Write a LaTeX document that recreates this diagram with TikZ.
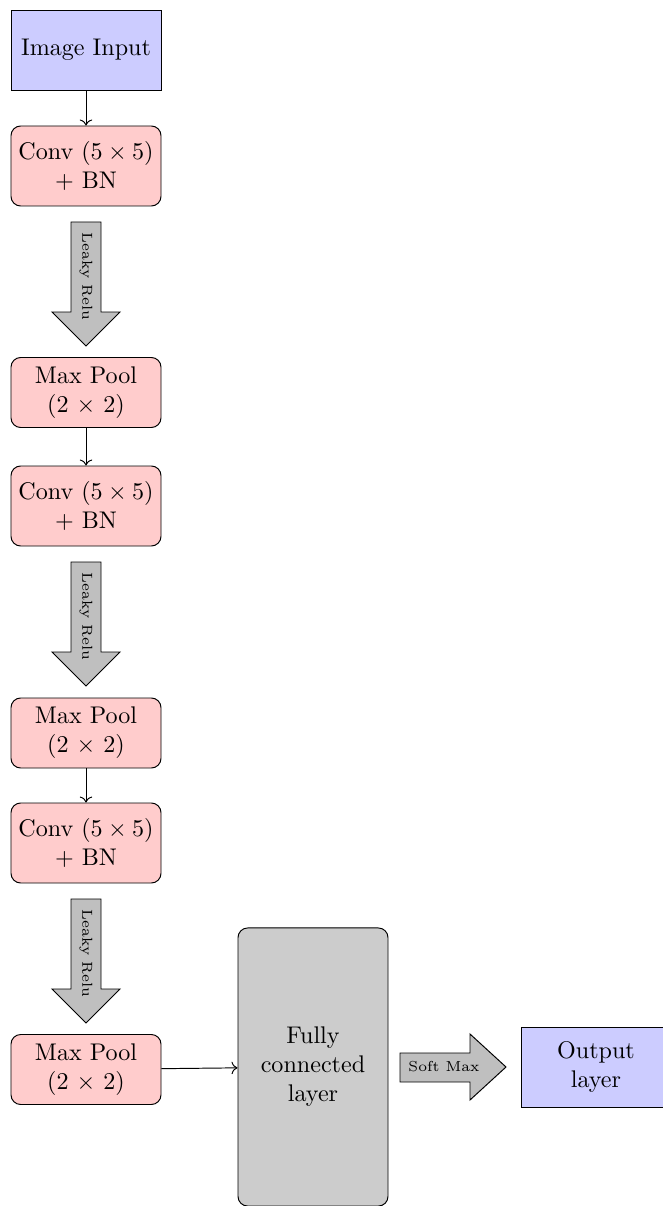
\documentclass[tikz,border=0pt]{standalone}
\usetikzlibrary{arrows.meta}
\begin{document}
\begin{tikzpicture}[x=0.415pt,y=-0.415pt,
 blk/.style={draw, minimum width=62.25pt, align=center, inner sep=0pt},
 inbox/.style={blk, fill=blue!20, minimum height=33.2pt},
 convbox/.style={blk, fill=red!20, rounded corners, minimum height=33.2pt},
 poolbox/.style={blk, fill=red!20, rounded corners, minimum height=29.05pt},
 fcbox/.style={blk, fill=gray!40, rounded corners, minimum height=115.4pt},
 conn/.style={->},
 fat/.style={draw, fill=gray!50},
 lab/.style={font=\fontsize{6}{7}\selectfont, inner sep=0pt}]
\useasboundingbox (0,0) rectangle (663,1206);
\node[inbox] (in) at (86,50) {Image Input};
\node[convbox] (conv1) at (86,166) {Conv $(5\times5)$\\+ BN};
\node[poolbox] (pool1) at (86,392.5) {Max Pool\\(2 $\times$ 2)};
\node[convbox] (conv2) at (86,506) {Conv $(5\times5)$\\+ BN};
\node[poolbox] (pool2) at (86,733) {Max Pool\\(2 $\times$ 2)};
\node[convbox] (conv3) at (86,843) {Conv $(5\times5)$\\+ BN};
\node[poolbox] (pool3) at (86,1069.5) {Max Pool\\(2 $\times$ 2)};
\node[fcbox] (fc) at (313,1067) {Fully\\connected\\layer};
\node[inbox] (out) at (596,1067) {Output\\layer};
\draw[conn] (in) -- (conv1);
\draw[conn] (pool1) -- (conv2);
\draw[conn] (pool2) -- (conv3);
\draw[conn] (pool3) -- (fc);
\foreach \t/\n in {222/lr1,562/lr2,899/lr3}{
  \draw[fat] (71,\t) -- (101,\t) -- (101,\t+90) -- (120,\t+90) -- (86,\t+124) -- (52,\t+90) -- (71,\t+90) -- cycle;
  \node[lab, rotate=-90] (\n) at (86,\t+54.5) {Leaky Relu};
}
\draw[fat] (400,1053) -- (470,1053) -- (470,1034) -- (506,1067) -- (470,1100) -- (470,1082) -- (400,1082) -- cycle;
\node[lab] (sm) at (444,1067) {Soft Max};
\end{tikzpicture}
\end{document}
